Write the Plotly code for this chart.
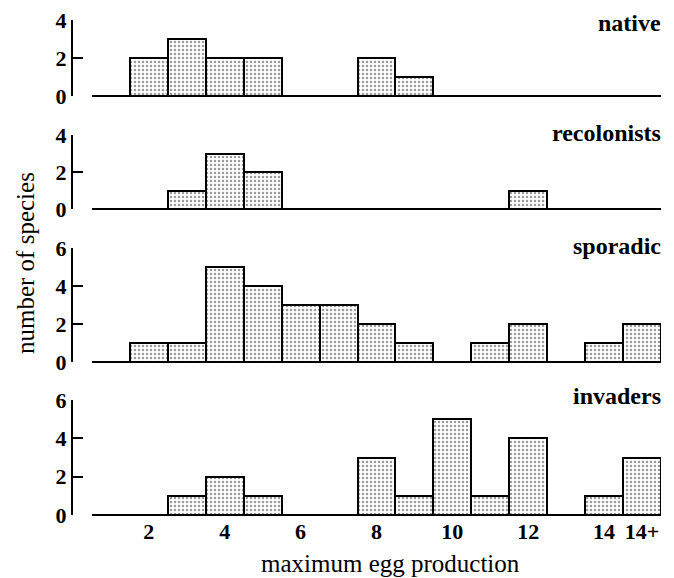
import plotly.graph_objects as go

# ---- data ----
bins = list(range(1, 16))
native = [0, 2, 3, 2, 2, 0, 0, 2, 1, 0, 0, 0, 0, 0, 0]
recolonists = [0, 0, 1, 3, 2, 0, 0, 0, 0, 0, 0, 1, 0, 0, 0]
sporadic = [0, 1, 1, 5, 4, 3, 3, 2, 1, 0, 1, 2, 0, 1, 2]
invaders = [0, 0, 1, 2, 1, 0, 0, 3, 1, 5, 1, 4, 0, 1, 3]
panel_names = ["native", "recolonists", "sporadic", "invaders"]
y_tops = [4, 4, 6, 6]
x_tick_vals = [2, 4, 6, 8, 10, 12, 14, 15]
x_tick_text = ["2", "4", "6", "8", "10", "12", "14", "14+"]

W, H = 674, 578
L, R = 73, 661
FONT = "Liberation Serif"

# panel vertical pixel extents (top tick, zero line)
panel_px = [(20, 96), (135, 209), (248, 362), (400, 515)]
label_base = [30, 140, 253, 403]


def py(p):
    return 1 - p / H


def pxx(p):
    return (p - L) / (R - L)


fig = go.Figure()
series = [native, recolonists, sporadic, invaders]
for i, vals in enumerate(series):
    xs = [b for b, v in zip(bins, vals) if v > 0]
    ys = [v for v in vals if v > 0]
    sfx = "" if i == 0 else str(i + 1)
    fig.add_trace(go.Bar(
        x=xs, y=ys, width=1.0,
        xaxis="x" + sfx, yaxis="y" + sfx,
        marker=dict(color="white",
                    line=dict(color="black", width=2),
                    pattern=dict(shape=".", fgcolor="#333333", bgcolor="#ffffff",
                                 size=4, solidity=0.32)),
        showlegend=False,
    ))

layout = dict(
    width=W, height=H, autosize=False,
    margin=dict(l=L, r=W - R, t=0, b=0, pad=0, autoexpand=False),
    paper_bgcolor="white", plot_bgcolor="white",
    bargap=0,
    font=dict(family=FONT, color="black"),
)

shapes = []
annotations = []
for i in range(4):
    sfx = "" if i == 0 else str(i + 1)
    top, bot = panel_px[i]
    layout["xaxis" + sfx] = dict(
        domain=[0, 1], range=[0, 15.5], anchor="y" + sfx,
        showgrid=False, zeroline=False, showline=False,
        ticks="", fixedrange=True, automargin=False,
        tickmode="array", tickvals=x_tick_vals, ticktext=x_tick_text,
        showticklabels=(i == 3),
        tickfont=dict(family=FONT, size=22, color="black", weight="bold"),
        ticklabelstandoff=1,
    )
    layout["yaxis" + sfx] = dict(
        domain=[py(bot), py(top)], range=[0, y_tops[i]], anchor="x" + sfx,
        showgrid=False, zeroline=False, automargin=False,
        showline=True, linecolor="black", linewidth=2,
        ticks="inside", ticklen=10, tickwidth=2, tickcolor="black",
        tickmode="linear", tick0=0, dtick=2,
        tickfont=dict(family=FONT, size=22, color="black", weight="bold"),
        ticklabelstandoff=0, fixedrange=True,
    )
    # baseline from x=0.5 to 15.5
    shapes.append(dict(type="line", xref="x" + sfx + " domain", yref="y" + sfx + " domain",
                       x0=0.5 / 15.5, x1=1.0, y0=0, y1=0,
                       line=dict(color="black", width=2)))
    annotations.append(dict(
        text=panel_names[i], xref="paper", yref="paper",
        x=pxx(663), y=py(label_base[i] - 7), xanchor="right", yanchor="middle",
        showarrow=False, font=dict(family=FONT, size=24, color="black", weight="bold"),
    ))

annotations.append(dict(
    text="number of species", xref="paper", yref="paper",
    x=pxx(25), y=py(263), xanchor="center", yanchor="middle", textangle=-90,
    showarrow=False, font=dict(family=FONT, size=25, color="black"),
))
annotations.append(dict(
    text="maximum egg production", xref="paper", yref="paper",
    x=pxx(390), y=py(563), xanchor="center", yanchor="middle",
    showarrow=False, font=dict(family=FONT, size=25, color="black"),
))

layout["shapes"] = shapes
layout["annotations"] = annotations
fig.update_layout(**layout)

fig.write_html("out.html", config={"displayModeBar": False},
               post_script="document.body.style.margin='0';")
